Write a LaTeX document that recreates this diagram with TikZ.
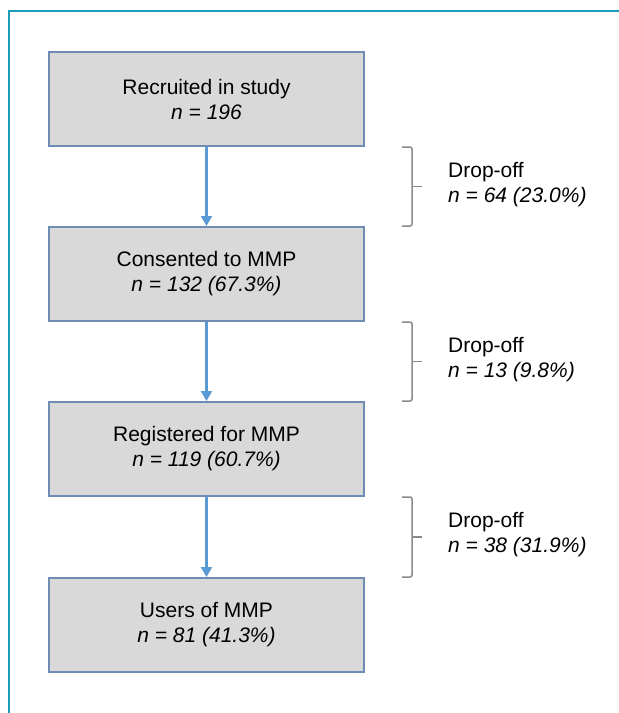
\documentclass[tikz,border=0pt]{standalone}
\usepackage{fontspec}
\setmainfont{Liberation Sans}
\usetikzlibrary{calc, arrows.meta}

\definecolor{boxfill}{HTML}{D9D9D9}
\definecolor{boxedge}{HTML}{6E8CB4}
\definecolor{flowblue}{HTML}{5B9BD5}
\definecolor{framecol}{HTML}{1B9CBB}
\definecolor{bracegray}{HTML}{8A8A8A}

\begin{document}
\begin{tikzpicture}[
    x=1pt, y=-1pt,
    % Estilos de nodos
    stage box/.style={draw=boxedge, line width=2pt, fill=boxfill, minimum width=315pt, minimum height=94pt, align=center, inner sep=0pt, font=\fontsize{21}{25}\selectfont},
    drop label/.style={anchor=west, align=left, inner sep=0pt, font=\fontsize{21}{25}\selectfont},
    % Estilos de aristas
    flow edge/.style={-{Triangle[length=10pt, width=11pt]}, line width=2.2pt, flowblue},
    drop brace/.style={line width=1.5pt, bracegray, rounded corners=2pt},
    frame line/.style={line width=2.8pt, framecol}
]
    \useasboundingbox (0,0) rectangle (619,713);

    % =========================================================================
    % 1. Marco (solo arriba e izquierda)
    % =========================================================================
    \draw[frame line] (619,11) -- (9,11) -- (9,713);

    % =========================================================================
    % 2. Cajas de cada etapa
    % =========================================================================
    \node[stage box] (b1) at (206.5,99)  {Recruited in study\\\textit{n = 196}};
    \node[stage box] (b2) at (206.5,274) {Consented to MMP\\\textit{n = 132 (67.3\%)}};
    \node[stage box] (b3) at (206.5,449) {Registered for MMP\\\textit{n = 119 (60.7\%)}};
    \node[stage box] (b4) at (206.5,625) {Users of MMP\\\textit{n = 81 (41.3\%)}};

    % =========================================================================
    % 3. Flechas entre etapas
    % =========================================================================
    \draw[flow edge] (b1) -- (b2);
    \draw[flow edge] (b2) -- (b3);
    \draw[flow edge] (b3) -- (b4);

    % =========================================================================
    % 4. Llaves y textos de abandono
    % =========================================================================
    \coordinate (bracex) at (412,0);
    \foreach \a/\b in {b1/b2, b2/b3, b3/b4} {
        \draw[drop brace] ($(\a.south -| bracex)+(-10,0)$) -- (\a.south -| bracex)
            -- (\b.north -| bracex) -- ($(\b.north -| bracex)+(-10,0)$);
        \draw[drop brace] ($(\a.south -| bracex)!0.5!(\b.north -| bracex)$) -- +(10,0);
    }

    \node[drop label] (d1) at (448,185) {Drop-off\\\textit{n = 64 (23.0\%)}};
    \node[drop label] (d2) at (448,360) {Drop-off\\\textit{n = 13 (9.8\%)}};
    \node[drop label] (d3) at (448,535) {Drop-off\\\textit{n = 38 (31.9\%)}};
\end{tikzpicture}
\end{document}
